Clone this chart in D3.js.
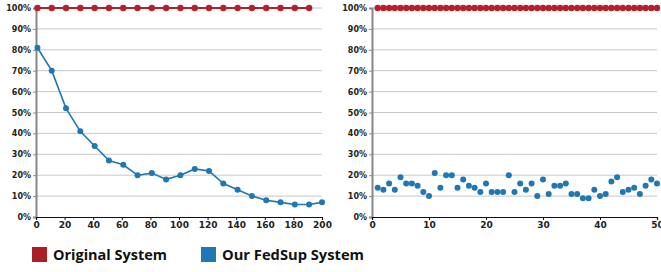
<!DOCTYPE html>
<html>
<head>
<meta charset="utf-8">
<script src="https://cdn.jsdelivr.net/npm/d3@7"></script>
<style>
  body { margin: 0; background: #fff; }
  .tick text { font-family: "DejaVu Sans"; font-weight: bold; font-size: 8px; fill: #222; }
</style>
</head>
<body>
<script>
// left panel: rounds vs ratio
var leftX = [1, 11, 21, 31, 41, 51, 61, 71, 81, 91, 101, 111, 121, 131, 141, 151, 161, 171, 181, 191, 200];
var leftOrig = [1, 1, 1, 1, 1, 1, 1, 1, 1, 1, 1, 1, 1, 1, 1, 1, 1, 1, 1, 1];
var leftOurs = [0.81, 0.70, 0.52, 0.41, 0.34, 0.27, 0.25, 0.20, 0.21, 0.18, 0.20, 0.23, 0.22, 0.16, 0.13, 0.10, 0.08, 0.07, 0.06, 0.06, 0.07];

// right panel: clients vs ratio
var rightX = d3.range(1, 51);
var rightOrig = rightX.map(function() { return 1; });
var rightOurs = [0.14, 0.13, 0.16, 0.13, 0.19, 0.16, 0.16, 0.15, 0.12, 0.10,
                 0.21, 0.14, 0.20, 0.20, 0.14, 0.18, 0.15, 0.14, 0.12, 0.16,
                 0.12, 0.12, 0.12, 0.20, 0.12, 0.16, 0.13, 0.16, 0.10, 0.18,
                 0.11, 0.15, 0.15, 0.16, 0.11, 0.11, 0.09, 0.09, 0.13, 0.10,
                 0.11, 0.17, 0.19, 0.12, 0.13, 0.14, 0.11, 0.15, 0.18, 0.16];

var yTicks = [0, 0.1, 0.2, 0.3, 0.4, 0.5, 0.6, 0.7, 0.8, 0.9, 1.0];
var legendNames = ["Original System", "Our FedSup System"];
var red = "#b5202a", blue = "#1f77b4";

var svg = d3.select("body").append("svg")
    .attr("width", 661)
    .attr("height", 272);

var y = d3.scaleLinear().domain([0, 1]).range([217, 8]);

function panel(x0, x1, domain, tickStep, xs, orig, ours, drawLine) {
    var x = d3.scaleLinear().domain(domain).range([x0, x1]);
    var g = svg.append("g");

    // grid
    g.selectAll(".grid").data(yTicks.slice(1)).enter().append("line")
        .attr("x1", x0).attr("x2", x1)
        .attr("y1", function(d) { return y(d); })
        .attr("y2", function(d) { return y(d); })
        .attr("stroke", "#c8c8c8").attr("stroke-width", 1);

    // y axis
    var ya = g.append("g").attr("transform", "translate(" + x0 + ",0)")
        .call(d3.axisLeft(y).tickValues(yTicks).tickFormat(d3.format(".0%")).tickSize(3).tickPadding(2));
    ya.select(".domain").attr("stroke", "#888").attr("stroke-width", 2);
    ya.selectAll(".tick line").attr("stroke", "#888");

    // x axis
    var xa = g.append("g").attr("transform", "translate(0,217)")
        .call(d3.axisBottom(x).tickValues(d3.range(domain[0], domain[1] + 1, tickStep)).tickSize(3).tickPadding(2));
    xa.select(".domain").attr("stroke", "#111").attr("stroke-width", 1.2);
    xa.selectAll(".tick line").attr("stroke", "#111");
    xa.selectAll(".tick text").style("font-size", "9px");

    // original system
    var origPts = orig.map(function(v, i) { return [xs[i], v]; });
    g.append("path").datum(origPts)
        .attr("fill", "none").attr("stroke", red).attr("stroke-width", 2)
        .attr("d", d3.line().x(function(d) { return x(d[0]); }).y(function(d) { return y(d[1]); }));
    g.selectAll(".op").data(origPts).enter().append("circle")
        .attr("cx", function(d) { return x(d[0]); })
        .attr("cy", function(d) { return y(d[1]); })
        .attr("r", 3.2).attr("fill", red);

    // ours
    var ourPts = ours.map(function(v, i) { return [xs[i], v]; });
    if (drawLine) {
        g.append("path").datum(ourPts)
            .attr("fill", "none").attr("stroke", blue).attr("stroke-width", 1.6)
            .attr("d", d3.line().x(function(d) { return x(d[0]); }).y(function(d) { return y(d[1]); }));
    }
    g.selectAll(".up").data(ourPts).enter().append("circle")
        .attr("cx", function(d) { return x(d[0]); })
        .attr("cy", function(d) { return y(d[1]); })
        .attr("r", 3).attr("fill", blue);
}

panel(36, 322, [0, 200], 20, leftX, leftOrig, leftOurs, true);
panel(372, 657, [0, 50], 10, rightX, rightOrig, rightOurs, false);

// legend
var lx = [32, 201], lw = [114, 142];
legendNames.forEach(function(name, i) {
    svg.append("rect").attr("x", lx[i]).attr("y", 247).attr("width", 15).attr("height", 15)
        .attr("fill", i === 0 ? "#a91f24" : blue);
    svg.append("text").attr("x", lx[i] + 21).attr("y", 260)
        .attr("font-family", "Open Sans").attr("font-weight", "bold").attr("font-size", "15px")
        .attr("textLength", lw[i]).attr("lengthAdjust", "spacingAndGlyphs")
        .attr("fill", "#111").text(name);
});
</script>
</body>
</html>
